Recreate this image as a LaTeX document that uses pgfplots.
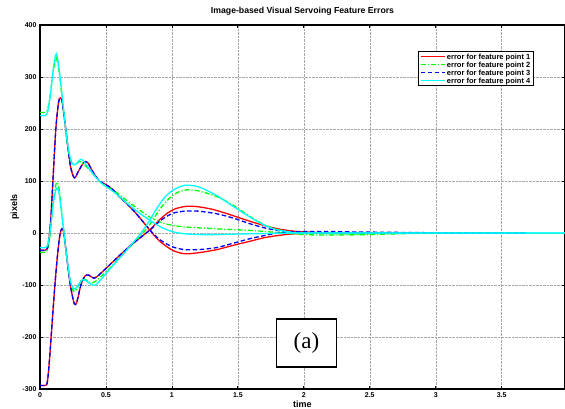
\documentclass[border=0pt]{standalone}
\usepackage{fontspec}
\setmainfont{Liberation Sans}
\newfontfamily\timesfont{Liberation Serif}
\usepackage{pgfplots}
\pgfplotsset{compat=1.18}
\definecolor{mred}{RGB}{255,0,0}
\definecolor{mgreen}{RGB}{0,255,0}
\definecolor{mblue}{RGB}{0,0,255}
\definecolor{mcyan}{RGB}{0,255,255}
\pgfplotsset{
  fp1/.style={color=mred, solid, line width=1.3pt},
  fp2/.style={color=mgreen, line width=1.3pt, dash pattern=on 5pt off 2pt on 1.2pt off 2pt},
  fp3/.style={color=mblue, line width=1.3pt, dash pattern=on 4.5pt off 2.5pt},
  fp4/.style={color=mcyan, solid, line width=1.3pt},
}

\begin{document}
\begin{tikzpicture}
\begin{axis}[
    scale only axis,
    width=525pt, height=364pt,
    xmin=0, xmax=3.98, ymin=-300, ymax=400,
    xtick={0,0.5,...,3.5},
    ytick={-300,-200,...,400},
    grid=major,
    major grid style={densely dotted, gray!70, line width=0.4pt},
    axis line style={line width=1.1pt},
    tick style={black, line width=0.8pt},
    major tick length=3pt,
    ticklabel style={font=\fontsize{7}{8}\selectfont\bfseries},
    /pgf/number format/assume math mode=true,
    title={Image-based Visual Servoing Feature Errors},
    title style={font=\fontsize{8.7}{9}\selectfont\bfseries,
        at={(axis description cs:0.5,1.022)}, anchor=center},
    xlabel={time},
    xlabel style={font=\fontsize{9}{10}\selectfont\bfseries,
        at={(axis description cs:0.5,-0.041)}, anchor=center},
    ylabel={pixels},
    ylabel style={font=\fontsize{9}{10}\selectfont\bfseries,
        at={(axis description cs:-0.048,0.5)}, anchor=center},
    legend style={at={(0.941,0.929)}, anchor=north east, draw=black, line width=0.9pt,
        font=\fontsize{7.5}{8}\selectfont\bfseries,
        inner xsep=2pt, inner ysep=1pt, row sep=0pt,
        nodes={inner sep=1.3pt, text depth=0pt},
        /tikz/every even column/.append style={column sep=2pt}},
    legend cell align=left,
    legend image code/.code={\path[draw=none, fill=none] (0pt,-3pt) rectangle (24pt,3pt);
        \draw[#1] (0pt,0pt) -- (24pt,0pt);},
]
\addlegendimage{fp1}
\addlegendentry{error for feature point 1}
\addlegendimage{fp2}
\addlegendentry{error for feature point 2}
\addlegendimage{fp3}
\addlegendentry{error for feature point 3}
\addlegendimage{fp4}
\addlegendentry{error for feature point 4}
% feature point 1 (red)
\addplot[fp1, smooth, forget plot] coordinates {
(0,-33) (0.04,-33) (0.06,-25) (0.08,20) (0.1,110) (0.12,200) (0.14,250) (0.155,260)
(0.17,250) (0.2,190) (0.23,130) (0.26,106) (0.29,118) (0.33,135) (0.36,136) (0.4,118)
(0.45,100) (0.5,93) (0.55,84) (0.6,70) (0.66,56) (0.72,40) (0.78,22) (0.84,3)
(0.9,-14) (0.96,-26) (1.02,-35) (1.1,-40) (1.2,-38) (1.34,-32) (1.46,-24) (1.59,-16)
(1.7,-9) (1.8,-5) (1.9,-2) (2.0,-1) (2.2,0) (2.5,0) (3.0,0) (3.69,0)};
\addplot[fp1, smooth, forget plot] coordinates {
(0,-293) (0.04,-293) (0.055,-288) (0.07,-250) (0.09,-180) (0.11,-110) (0.13,-50) (0.15,-5)
(0.165,8) (0.18,0) (0.2,-40) (0.23,-100) (0.26,-136) (0.28,-132) (0.31,-100) (0.34,-83)
(0.37,-81) (0.41,-87) (0.45,-80) (0.5,-68) (0.55,-56) (0.6,-44) (0.66,-30) (0.72,-17)
(0.78,-5) (0.84,8) (0.9,24) (0.96,37) (1.02,46) (1.1,51) (1.18,51) (1.3,46) (1.42,37)
(1.55,26) (1.65,18) (1.75,11) (1.85,6) (1.95,3) (2.1,1) (2.3,0) (3.0,0) (3.69,0)};
% feature point 2 (green)
\addplot[fp2, smooth, forget plot] coordinates {
(0,232) (0.04,232) (0.06,240) (0.08,270) (0.1,310) (0.12,334) (0.13,333) (0.15,300)
(0.18,230) (0.21,165) (0.24,135) (0.27,132) (0.3,138) (0.33,133) (0.37,123) (0.42,108)
(0.47,95) (0.52,88) (0.57,80) (0.62,70) (0.68,58) (0.75,45) (0.83,31) (0.92,20)
(1.0,15) (1.08,12) (1.2,10) (1.34,8) (1.59,5) (1.8,1) (2.0,-3) (2.2,-4) (2.5,-3)
(2.8,-1) (3.1,0) (3.69,0)};
\addplot[fp2, smooth, forget plot] coordinates {
(0,-37) (0.04,-37) (0.06,-30) (0.08,5) (0.1,60) (0.12,93) (0.13,97) (0.145,85)
(0.17,30) (0.2,-40) (0.23,-95) (0.255,-112) (0.28,-107) (0.31,-92) (0.33,-88) (0.36,-92)
(0.39,-96) (0.42,-93) (0.47,-82) (0.52,-70) (0.58,-54) (0.64,-38) (0.7,-22) (0.76,-6)
(0.82,12) (0.88,35) (0.94,56) (1.0,71) (1.06,80) (1.12,83) (1.2,81) (1.34,70)
(1.46,54) (1.59,32) (1.7,16) (1.8,7) (1.9,2) (2.0,0) (2.3,-2) (2.6,-1) (3.0,0) (3.69,0)};
% feature point 3 (blue)
\addplot[fp3, smooth, forget plot] coordinates {
(0,-33) (0.04,-33) (0.06,-25) (0.08,20) (0.1,110) (0.12,200) (0.14,250) (0.155,260)
(0.17,250) (0.2,190) (0.23,130) (0.26,106) (0.29,118) (0.33,135) (0.36,136) (0.4,118)
(0.45,100) (0.5,93) (0.55,84) (0.6,70) (0.66,56) (0.72,40) (0.78,22) (0.84,4)
(0.9,-11) (0.96,-21) (1.02,-28) (1.1,-32) (1.2,-32) (1.34,-28) (1.46,-20) (1.59,-11)
(1.7,-5) (1.78,-1) (1.9,2) (2.1,3) (2.4,2) (2.8,1) (3.2,0) (3.69,0)};
\addplot[fp3, smooth, forget plot] coordinates {
(0,-293) (0.04,-293) (0.055,-288) (0.07,-250) (0.09,-180) (0.11,-110) (0.13,-50) (0.15,-5)
(0.165,8) (0.18,0) (0.2,-40) (0.23,-100) (0.26,-136) (0.28,-132) (0.31,-100) (0.34,-83)
(0.37,-81) (0.41,-87) (0.45,-80) (0.5,-68) (0.55,-56) (0.6,-44) (0.66,-30) (0.72,-17)
(0.78,-5) (0.84,7) (0.9,21) (0.96,32) (1.02,39) (1.1,42) (1.2,42) (1.34,37) (1.46,29)
(1.59,18) (1.7,10) (1.8,5) (1.9,2) (2.1,0) (3.0,0) (3.69,0)};
% feature point 4 (cyan)
\addplot[fp4, smooth, forget plot] coordinates {
(0,226) (0.04,226) (0.06,235) (0.08,268) (0.1,315) (0.12,343) (0.13,340) (0.15,305)
(0.18,235) (0.21,170) (0.24,135) (0.27,132) (0.3,140) (0.32,141) (0.36,128) (0.42,108)
(0.47,95) (0.52,86) (0.57,77) (0.62,66) (0.68,53) (0.75,39) (0.83,25) (0.92,11)
(1.0,3) (1.08,-1) (1.2,-3) (1.34,-3) (1.5,-2) (1.7,-1) (2.0,0) (3.0,0) (3.98,0)};
\addplot[fp4, smooth, forget plot] coordinates {
(0,-28) (0.04,-28) (0.06,-22) (0.08,10) (0.1,55) (0.12,83) (0.13,86) (0.145,75)
(0.17,25) (0.2,-40) (0.23,-92) (0.26,-108) (0.29,-100) (0.32,-90) (0.35,-92) (0.39,-99)
(0.42,-100) (0.46,-90) (0.52,-72) (0.58,-55) (0.64,-38) (0.7,-20) (0.76,-2) (0.82,20)
(0.88,45) (0.94,67) (1.0,81) (1.06,89) (1.1,92) (1.2,89) (1.34,72) (1.46,52)
(1.59,31) (1.7,15) (1.8,6) (1.9,2) (2.0,0) (3.0,0) (3.98,0)};
\node[draw=black, line width=1.6pt, fill=white, minimum width=60pt, minimum height=48pt,
      inner sep=0pt, font=\timesfont\fontsize{23}{24}\selectfont] at (axis cs:2.02,-211) {(a)};
\end{axis}
\pgfresetboundingbox
\path[use as bounding box] (-40pt,-19pt) rectangle (525pt,389pt);
\end{tikzpicture}
\end{document}
